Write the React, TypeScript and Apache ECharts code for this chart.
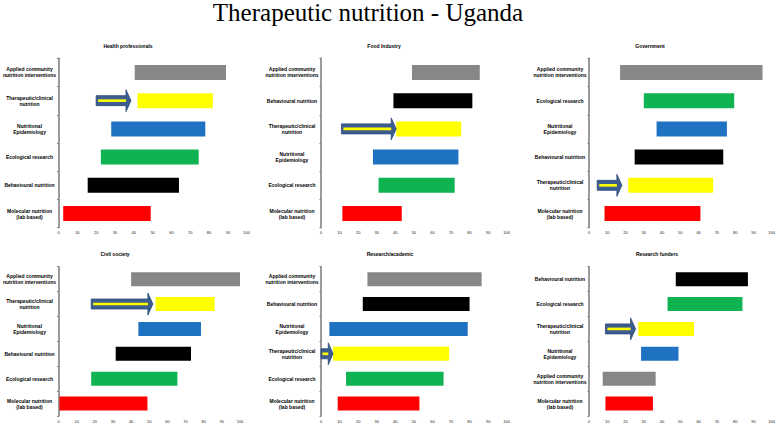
import React, { useEffect, useRef } from "react";
import * as echarts from "echarts";

const mainTitle = "Therapeutic nutrition - Uganda";

const APPLIED = "Applied community\nnutrition interventions";
const THERA = "Therapeutic/clinical\nnutrition";
const EPI = "Nutritional\nEpidemiology";
const ECO = "Ecological research";
const BEH = "Behavioural nutrition";
const MOL = "Molecular nutrition\n(lab based)";

const xTicks = [0, 10, 20, 30, 40, 50, 60, 70, 80, 90, 100];

const panelTitles = [
  "Health professionals",
  "Food Industry",
  "Government",
  "Civil society",
  "Research/academic",
  "Research funders",
];

// categories listed top -> bottom
const cats1 = [APPLIED, THERA, EPI, ECO, BEH, MOL];
const start1 = [40.5, 42, 28, 22.5, 15.5, 2.5];
const end1 = [89, 82, 78, 74.5, 64, 49];
const arrow1 = [20, 38.5];

const cats2 = [APPLIED, BEH, THERA, EPI, ECO, MOL];
const start2 = [49, 39, 40.5, 28, 31, 11.5];
const end2 = [85.5, 81.5, 75.5, 74, 72, 43.5];
const arrow2 = [11, 40.5];

const cats3 = [APPLIED, ECO, EPI, BEH, THERA, MOL];
const start3 = [17, 30, 37, 25, 21.5, 8.5];
const end3 = [95, 79.5, 75.5, 73.5, 68, 61];
const arrow3 = [4.5, 18];

const cats4 = [APPLIED, THERA, EPI, BEH, ECO, MOL];
const start4 = [40, 53.5, 44, 31.5, 18, 0.5];
const end4 = [100, 86, 78.5, 73, 65.5, 49];
const arrow4 = [18, 52];

const cats5 = [APPLIED, BEH, EPI, THERA, ECO, MOL];
const start5 = [25, 22.5, 4.5, 6.5, 13.5, 9];
const end5 = [86.5, 80, 79, 69, 66, 53];
const arrow5 = [0, 6.5];

const cats6 = [BEH, ECO, THERA, EPI, APPLIED, MOL];
const start6 = [47.5, 43, 27, 28.5, 7.5, 9];
const end6 = [87, 84, 57.5, 49, 36.5, 35];
const arrow6 = [9, 25.5];

const catColors: Record<string, string> = {
  [APPLIED]: "#878787",
  [THERA]: "#ffff00",
  [EPI]: "#1f72c2",
  [ECO]: "#0fb352",
  [BEH]: "#000000",
  [MOL]: "#ff0000",
};

const panels = [
  { cats: cats1, start: start1, end: end1, arrow: arrow1 },
  { cats: cats2, start: start2, end: end2, arrow: arrow2 },
  { cats: cats3, start: start3, end: end3, arrow: arrow3 },
  { cats: cats4, start: start4, end: end4, arrow: arrow4 },
  { cats: cats5, start: start5, end: end5, arrow: arrow5 },
  { cats: cats6, start: start6, end: end6, arrow: arrow6 },
];

// layout (px)
const gridLefts = [56, 321, 589, 54.3, 321, 589];
const gridWidths = [190.7, 185.7, 185.7, 185.7, 185.7, 185.7];
const gridTops = [58.3, 58.3, 58.3, 266.7, 266.7, 266.7];
const gridHeights = [169.4, 169.4, 169.4, 150, 150, 150];
const titleXs = [128, 384, 650, 115, 390, 657];
const titleYs = [43.5, 43.5, 43.5, 251.8, 251.8, 251.8];

export default function App() {
  const ref = useRef<HTMLDivElement>(null);
  useEffect(() => {
    if (!ref.current) return;
    const chart = echarts.init(ref.current, undefined, { renderer: "svg" });
    const grid: any[] = [];
    const xAxis: any[] = [];
    const yAxis: any[] = [];
    const series: any[] = [];
    const titles: any[] = [
      {
        text: mainTitle,
        left: 368,
        top: 0,
        padding: 0,
        textAlign: "center",
        textStyle: {
          fontFamily: "Liberation Serif",
          fontWeight: "normal",
          fontSize: 25,
          color: "#000",
        },
      },
    ];
    panels.forEach((p, i) => {
      grid.push({
        left: gridLefts[i],
        top: gridTops[i],
        width: gridWidths[i],
        height: gridHeights[i],
      });
      titles.push({
        text: panelTitles[i],
        left: titleXs[i],
        top: titleYs[i],
        padding: 0,
        textAlign: "center",
        textStyle: {
          fontFamily: "Liberation Sans",
          fontWeight: "bold",
          fontSize: 5,
          color: "#000",
        },
      });
      xAxis.push({
        type: "value",
        gridIndex: i,
        min: 0,
        max: 100,
        interval: 10,
        axisLine: { show: false },
        axisTick: { show: false },
        splitLine: { show: false },
        axisLabel: {
          fontSize: 4,
          color: "#222",
          fontFamily: "Liberation Sans",
          margin: 3,
          formatter: (v: number) => (xTicks.includes(v) ? String(v) : ""),
        },
      });
      yAxis.push({
        type: "category",
        gridIndex: i,
        data: p.cats,
        inverse: true,
        axisLine: { show: true, lineStyle: { color: "#7a7a7a", width: 1.5 } },
        axisTick: { show: true, length: 1.5, lineStyle: { color: "#7a7a7a" } },
        axisLabel: {
          fontSize: 5,
          lineHeight: 6,
          fontWeight: "bold",
          fontFamily: "Liberation Sans",
          color: "#000",
          align: "center",
          margin: 29,
        },
      });
      const stackName = "s" + i;
      series.push({
        type: "bar",
        xAxisIndex: i,
        yAxisIndex: i,
        stack: stackName,
        barWidth: i < 3 ? 15 : 14,
        itemStyle: { color: "transparent" },
        silent: true,
        data: p.start,
      });
      series.push({
        type: "bar",
        xAxisIndex: i,
        yAxisIndex: i,
        stack: stackName,
        barWidth: i < 3 ? 15 : 14,
        data: p.cats.map((c, k) => ({
          value: p.end[k] - p.start[k],
          itemStyle: { color: catColors[c] },
        })),
      });
      const thIdx = p.cats.indexOf(THERA);
      series.push({
        type: "custom",
        xAxisIndex: i,
        yAxisIndex: i,
        encode: { x: [0, 1], y: 2 },
        data: [[p.arrow[0], p.arrow[1], thIdx]],
        z: 5,
        renderItem: (params: any, api: any) => {
          const a = api.coord([api.value(0), api.value(2)]);
          const b = api.coord([api.value(1), api.value(2)]);
          const headLen = Math.min(5, (b[0] - a[0]) * 0.4);
          const shaftH = 5;
          const headH = 11;
          const hb = b[0] - headLen;
          const cy = a[1];
          return {
            type: "group",
            children: [
              {
                type: "polygon",
                shape: {
                  points: [
                    [a[0], cy - shaftH],
                    [hb, cy - shaftH],
                    [hb, cy - headH],
                    [b[0], cy],
                    [hb, cy + headH],
                    [hb, cy + shaftH],
                    [a[0], cy + shaftH],
                  ],
                },
                style: { fill: "#3d5d8e", stroke: "#2c4a78", lineWidth: 0.8 },
              },
              {
                type: "rect",
                shape: {
                  x: a[0] + Math.min(2, (hb - a[0]) * 0.2),
                  y: cy - 1.3,
                  width: Math.max(0, hb - a[0] - Math.min(2, (hb - a[0]) * 0.2)),
                  height: 2.6,
                },
                style: { fill: "#ffff00" },
              },
            ],
          };
        },
      });
    });
    chart.setOption({
      animation: false,
      backgroundColor: "#ffffff",
      title: titles,
      grid,
      xAxis,
      yAxis,
      series,
    });
    return () => chart.dispose();
  }, []);
  return (
    <div
      ref={ref}
      style={{ position: "absolute", left: 0, top: 0, width: 778, height: 423 }}
    />
  );
}
